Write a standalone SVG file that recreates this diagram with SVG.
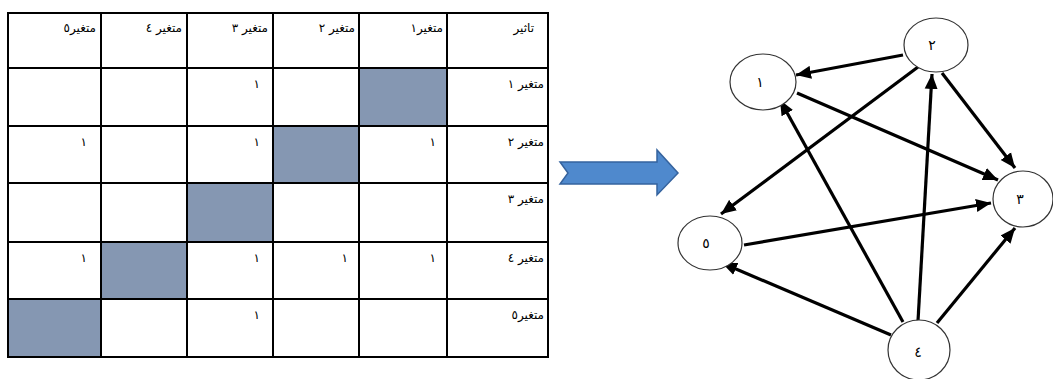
<svg xmlns="http://www.w3.org/2000/svg" width="1053" height="379" viewBox="0 0 1053 379">
<style>
.grid{stroke:#000;stroke-width:2;fill:none}
.shade{fill:#8597b2}
.t{font-family:"DejaVu Sans",sans-serif;font-size:12px;fill:#000;text-anchor:end}
.node ellipse{fill:#fff;stroke:#333;stroke-width:1.2}
.node text{font-family:"DejaVu Sans",sans-serif;font-size:14px;fill:#000;text-anchor:middle}
.edge{stroke:#000;stroke-width:3.2;fill:none;marker-end:url(#ah)}
</style>
<defs>
<marker id="ah" markerUnits="userSpaceOnUse" markerWidth="16" markerHeight="14" refX="15" refY="7" orient="auto">
<path d="M0,0.5 L15,7 L0,13.5 Z" fill="#000"/>
</marker>
</defs>
<rect width="1053" height="379" fill="#fff"/>
<g id="table">
<rect class="shade" x="359" y="68" width="88" height="58"/>
<rect class="shade" x="273" y="126" width="86" height="57"/>
<rect class="shade" x="187" y="183" width="86" height="59"/>
<rect class="shade" x="101" y="242" width="86" height="57"/>
<rect class="shade" x="8" y="299" width="93" height="58"/>
<rect class="grid" x="8" y="13" width="540" height="344"/>
<path class="grid" d="M101,13V357M187,13V357M273,13V357M359,13V357M447,13V357M8,68H548M8,126H548M8,183H548M8,242H548M8,299H548"/>
<text class="t" x="534" y="32">تاثیر</text>
<text class="t" x="443" y="32">متغیر۱</text>
<text class="t" x="355" y="32">متغیر ٢</text>
<text class="t" x="268" y="32">متغیر ٣</text>
<text class="t" x="182" y="32">متغیر ٤</text>
<text class="t" x="96" y="32">متغیر٥</text>
<text class="t" x="544" y="88">متغیر ١</text>
<text class="t" x="544" y="146">متغیر ٢</text>
<text class="t" x="544" y="203">متغیر ٣</text>
<text class="t" x="544" y="262">متغیر ٤</text>
<text class="t" x="544" y="319">متغیر٥</text>
<text class="t" x="260" y="88">١</text>
<text class="t" x="436" y="146">١</text>
<text class="t" x="260" y="146">١</text>
<text class="t" x="87" y="146">١</text>
<text class="t" x="436" y="262">١</text>
<text class="t" x="348" y="262">١</text>
<text class="t" x="260" y="262">١</text>
<text class="t" x="87" y="262">١</text>
<text class="t" x="260" y="319">١</text>
</g>
<g id="bigArrow">
<path d="M560,162 L657,162 L657,150 L678,173 L657,195 L657,184 L560,184 L568,173 Z" fill="#4f89cd" stroke="#35639e" stroke-width="1.5"/>
</g>
<g id="connectors">
<line class="edge" x1="903" y1="55" x2="796" y2="75"/>
<line class="edge" x1="918" y1="67" x2="721" y2="214"/>
<line class="edge" x1="942" y1="73" x2="1015" y2="168"/>
<line class="edge" x1="797" y1="93" x2="998" y2="180"/>
<line class="edge" x1="903" y1="322" x2="780" y2="100"/>
<line class="edge" x1="918" y1="321" x2="932" y2="74"/>
<line class="edge" x1="937" y1="323" x2="1015" y2="228"/>
<line class="edge" x1="891" y1="335" x2="722" y2="263"/>
<line class="edge" x1="744" y1="245" x2="991" y2="203"/>
</g>
<g id="n1" class="node"><ellipse cx="763" cy="82" rx="33" ry="28"/><text x="760" y="87">١</text></g>
<g id="n2" class="node"><ellipse cx="936" cy="45" rx="32" ry="27"/><text x="932" y="50">٢</text></g>
<g id="n3" class="node"><ellipse cx="1023" cy="199" rx="30" ry="28"/><text x="1020" y="204">٣</text></g>
<g id="n4" class="node"><ellipse cx="919" cy="350" rx="31" ry="30"/><text x="918" y="357">٤</text></g>
<g id="n5" class="node"><ellipse cx="710" cy="243" rx="32" ry="27"/><text x="706" y="248">٥</text></g>
</svg>
